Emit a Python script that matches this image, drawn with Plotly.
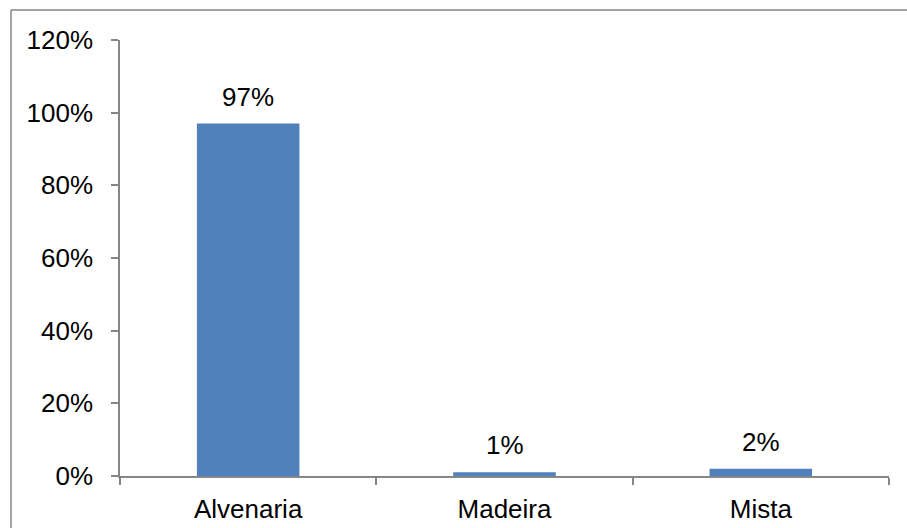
import plotly.graph_objects as go

# Construction type shares (%)
categories = ["Alvenaria", "Madeira", "Mista"]
shares = [97, 1, 2]
y_ticks = [0, 20, 40, 60, 80, 100, 120]
y_tick_labels = ["0%", "20%", "40%", "60%", "80%", "100%", "120%"]

W, H = 907, 528
ML, MR, MT, MB = 120, 18, 40, 52
FONT = "Liberation Sans, Arial, sans-serif"
FS = 26
AXIS_COLOR = "#868686"

fig = go.Figure(
    go.Bar(
        x=categories,
        y=shares,
        marker=dict(color="#4F81BD", line=dict(width=0)),
        width=0.4,
        hoverinfo="skip",
    )
)

# Value labels above each bar
for cat, val in zip(categories, shares):
    fig.add_annotation(
        x=cat, y=val, text=f"{val}%", showarrow=False,
        yanchor="bottom", yshift=10,
        font=dict(family=FONT, size=FS, color="#000000"),
    )

# Outer frame (left and top edges visible within the page)
pw = W - ML - MR
ph = H - MT - MB
def px_x(x):
    return (x - ML) / pw
def px_y(y):
    return (H - MB - y) / ph

fig.add_shape(type="line", xref="paper", yref="paper",
              x0=px_x(11), x1=px_x(W + 20), y0=px_y(10), y1=px_y(10),
              line=dict(color=AXIS_COLOR, width=1.5))
fig.add_shape(type="line", xref="paper", yref="paper",
              x0=px_x(11), x1=px_x(11), y0=px_y(10), y1=px_y(H + 20),
              line=dict(color=AXIS_COLOR, width=1.5))

fig.update_layout(
    width=W, height=H,
    margin=dict(l=ML, r=MR, t=MT, b=MB, autoexpand=False),
    paper_bgcolor="white",
    plot_bgcolor="white",
    showlegend=False,
    font=dict(family=FONT, size=FS, color="#000000"),
    xaxis=dict(
        type="category",
        automargin=False,
        showline=True, linecolor=AXIS_COLOR, linewidth=1.5,
        ticks="outside", ticklen=7, tickcolor=AXIS_COLOR, tickwidth=1.5,
        tickson="boundaries",
        showgrid=False, zeroline=False,
        tickfont=dict(family=FONT, size=FS, color="#000000"),
        ticklabelstandoff=9,
    ),
    yaxis=dict(
        range=[0, 120],
        automargin=False,
        tickvals=y_ticks, ticktext=y_tick_labels,
        showline=True, linecolor=AXIS_COLOR, linewidth=1.5,
        ticks="outside", ticklen=7, tickcolor=AXIS_COLOR, tickwidth=1.5,
        showgrid=False, zeroline=False,
        tickfont=dict(family=FONT, size=FS, color="#000000"),
        ticklabelstandoff=13,
    ),
)

fig.write_html("out.html")
